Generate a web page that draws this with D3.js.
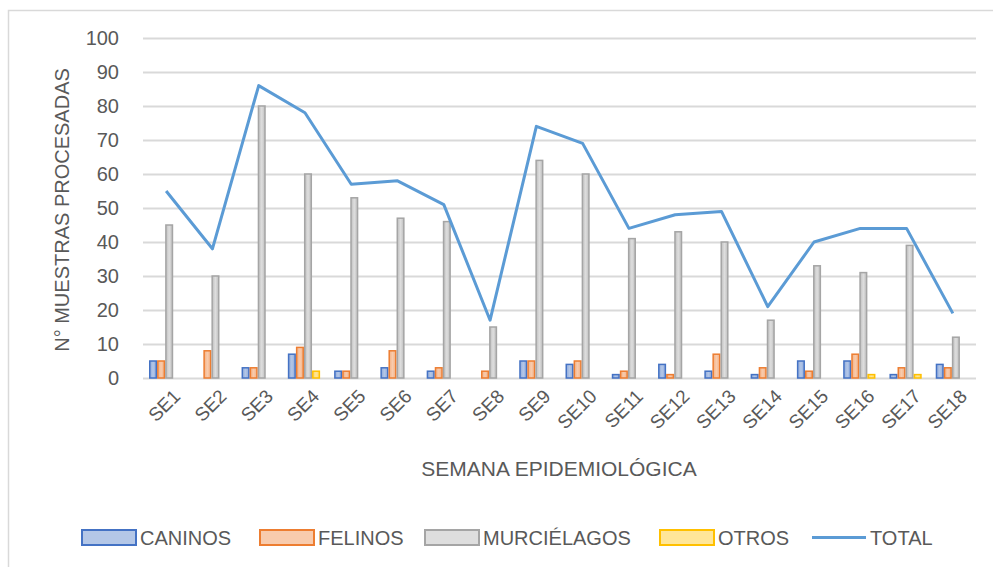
<!DOCTYPE html>
<html>
<head>
<meta charset="utf-8">
<script src="https://cdn.jsdelivr.net/npm/d3@7"></script>
<style>
  body { margin: 0; background: #fff; }
  svg text { font-family: "Liberation Sans", Arial, sans-serif; fill: #595959; }
</style>
</head>
<body>
<svg id="chart" width="993" height="567"></svg>
<script>
var weeks = ["SE1","SE2","SE3","SE4","SE5","SE6","SE7","SE8","SE9","SE10","SE11","SE12","SE13","SE14","SE15","SE16","SE17","SE18"];
var caninos     = [5, 0, 3, 7, 2, 3, 2, 0, 5, 4, 1, 4, 2, 1, 5, 5, 1, 4];
var felinos     = [5, 8, 3, 9, 2, 8, 3, 2, 5, 5, 2, 1, 7, 3, 2, 7, 3, 3];
var murcielagos = [45, 30, 80, 60, 53, 47, 46, 15, 64, 60, 41, 43, 40, 17, 33, 31, 39, 12];
var otros       = [0, 0, 0, 2, 0, 0, 0, 0, 0, 0, 0, 0, 0, 0, 0, 1, 1, 0];
var total       = [55, 38, 86, 78, 57, 58, 51, 17, 74, 69, 44, 48, 49, 21, 40, 44, 44, 19];
var yTicks = [0, 10, 20, 30, 40, 50, 60, 70, 80, 90, 100];

var series = [
  {name: "CANINOS", values: caninos, fill: "#8faadc", light: "#b4c7e7", stroke: "#4472c4"},
  {name: "FELINOS", values: felinos, fill: "#f4b183", light: "#f8cbad", stroke: "#ed7d31"},
  {name: "MURCIÉLAGOS", values: murcielagos, fill: "#bfbfbf", light: "#dedede", stroke: "#a5a5a5"},
  {name: "OTROS", values: otros, fill: "#ffd966", light: "#ffe699", stroke: "#ffc000"}
];

var svg = d3.select("#chart");
var plotLeft = 143, plotRight = 976, plotTop = 38, plotBottom = 378;

// chart frame (clipped by the window on right and bottom)
svg.append("rect").attr("x", 8.5).attr("y", 10.5).attr("width", 1000).attr("height", 600)
  .attr("fill", "none").attr("stroke", "#d9d9d9").attr("stroke-width", 1.5);

var defs = svg.append("defs");
series.forEach(function(s, i) {
  var g = defs.append("linearGradient").attr("id", "grad" + i)
    .attr("x1", "0%").attr("x2", "100%").attr("y1", "0%").attr("y2", "0%");
  g.append("stop").attr("offset", "0%").attr("stop-color", s.fill);
  g.append("stop").attr("offset", "50%").attr("stop-color", s.light);
  g.append("stop").attr("offset", "100%").attr("stop-color", s.fill);
});

var x = d3.scaleBand().domain(weeks).range([plotLeft, plotRight]).padding(0);
var x1 = d3.scaleBand().domain(d3.range(series.length)).range([6, x.bandwidth() - 8]).padding(0);
var y = d3.scaleLinear().domain([0, 100]).range([plotBottom, plotTop]);

// grid
svg.append("g").selectAll("line").data(yTicks).join("line")
  .attr("x1", plotLeft).attr("x2", plotRight)
  .attr("y1", function(d) { return Math.round(y(d)) + 0.5; })
  .attr("y2", function(d) { return Math.round(y(d)) + 0.5; })
  .attr("stroke", "#d9d9d9").attr("stroke-width", 2);

// y tick labels
svg.append("g").selectAll("text").data(yTicks).join("text")
  .attr("x", 119).attr("y", function(d) { return y(d); })
  .attr("dy", "0.35em").attr("text-anchor", "end")
  .style("font-size", "20px")
  .text(function(d) { return d; });

// bars
var groups = svg.append("g").selectAll("g").data(weeks).join("g")
  .attr("transform", function(d) { return "translate(" + x(d) + ",0)"; });

groups.selectAll("rect").data(function(d, i) {
    return series.map(function(s, k) { return {k: k, v: s.values[i]}; });
  }).join("rect")
  .filter(function(d) { return d.v > 0; })
  .attr("x", function(d) { return x1(d.k) + 0.75; })
  .attr("width", x1.bandwidth() - 1.5)
  .attr("y", function(d) { return y(d.v); })
  .attr("height", function(d) { return y(0) - y(d.v); })
  .attr("fill", function(d) { return "url(#grad" + d.k + ")"; })
  .attr("stroke", function(d) { return series[d.k].stroke; })
  .attr("stroke-width", 1.5);

// total line
var line = d3.line()
  .x(function(d, i) { return x(weeks[i]) + x.bandwidth() / 2; })
  .y(function(d) { return y(d); });
svg.append("path").datum(total).attr("d", line)
  .attr("fill", "none").attr("stroke", "#5b9bd5").attr("stroke-width", 3)
  .attr("stroke-linejoin", "round");

// x labels
svg.append("g").selectAll("text").data(weeks).join("text")
  .attr("transform", function(d) {
    return "translate(" + (x(d) + x.bandwidth() / 2 + 6) + "," + 388 + ") rotate(-45)";
  })
  .attr("text-anchor", "end").attr("dy", "0.7em")
  .style("font-size", "19px")
  .text(function(d) { return d; });

// axis titles
svg.append("text").attr("transform", "translate(69,210) rotate(-90)")
  .attr("text-anchor", "middle").style("font-size", "20px")
  .text("N° MUESTRAS PROCESADAS");
svg.append("text").attr("x", 559).attr("y", 476)
  .attr("text-anchor", "middle").style("font-size", "21px")
  .text("SEMANA EPIDEMIOLÓGICA");

// legend
var legendX = [82, 260, 425, 660, 812];
var legend = svg.append("g");
series.forEach(function(s, i) {
  legend.append("rect").attr("x", legendX[i]).attr("y", 530).attr("width", 54).attr("height", 15)
    .attr("fill", s.light).attr("stroke", s.stroke).attr("stroke-width", 2);
  legend.append("text").attr("x", legendX[i] + 58).attr("y", 538).attr("dy", "0.35em")
    .style("font-size", "20px").text(s.name);
});
legend.append("line").attr("x1", legendX[4]).attr("x2", legendX[4] + 54)
  .attr("y1", 537.5).attr("y2", 537.5).attr("stroke", "#5b9bd5").attr("stroke-width", 3);
legend.append("text").attr("x", legendX[4] + 58).attr("y", 538).attr("dy", "0.35em")
  .style("font-size", "20px").text("TOTAL");
</script>
</body>
</html>
